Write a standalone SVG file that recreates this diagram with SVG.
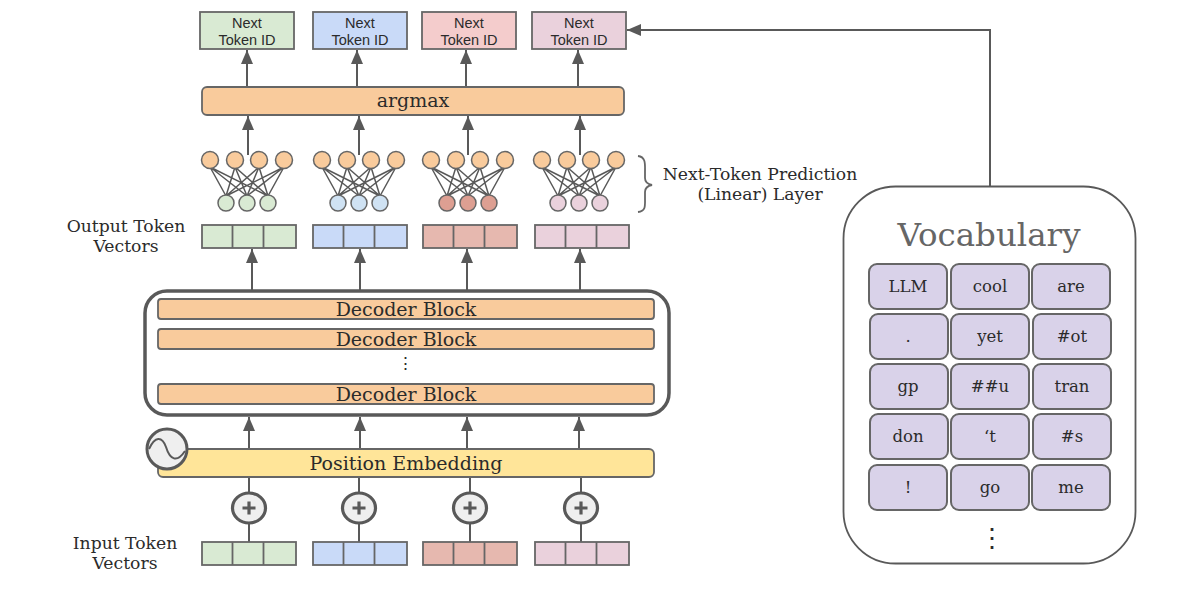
<svg xmlns="http://www.w3.org/2000/svg" xmlns:xlink="http://www.w3.org/1999/xlink" width="1198" height="599" viewBox="0 0 1198 599">
<style>
text{font-family:"DejaVu Serif","Liberation Serif",serif;fill:#2b2b2b;text-anchor:middle}
.sans{font-family:"Liberation Sans",Arial,sans-serif;font-size:14.5px}
.lab{font-size:17.2px}
.blk{font-size:19px}
.cell{font-size:16.5px}
.box{stroke:#666;stroke-width:1.800}
.thin{stroke:#666;stroke-width:1.800;fill:none}
.cnn{stroke:#595959;stroke-width:2;fill:none}
.arr{marker-end:url(#ah)}
.wire{stroke:#595959;stroke-width:1.500;fill:none}
.c{stroke:#666;stroke-width:1.500}
.og{fill:#f9cb9c}.gr{fill:#d9ead3}.bl{fill:#c9daf8}.rd{fill:#f4cccc}.rd2{fill:#e6b8af}.pk{fill:#ead1dc}.yl{fill:#ffe599}
.b2{fill:#cfe2f3}.r3{fill:#dd9f92}
.cellbox{fill:#d9d2e9;stroke:#666;stroke-width:2}
</style>
<defs>
<marker id="ah" markerUnits="userSpaceOnUse" markerWidth="15" markerHeight="13" refX="14" refY="6.500" orient="auto"><path d="M0 0.500L14 6.500L0 12.500z" fill="#595959"/></marker>
<path id="wires" d="M0 167L16 196M0 167L37 196M0 167L58 196M25 167L16 196M25 167L37 196M25 167L58 196M49 167L16 196M49 167L37 196M49 167L58 196M74 167L16 196M74 167L37 196M74 167L58 196"/>
<g id="tops"><circle class="c og" cx="0" cy="160" r="8.500"/><circle class="c og" cx="25" cy="160" r="8.500"/><circle class="c og" cx="49" cy="160" r="8.500"/><circle class="c og" cx="74" cy="160" r="8.500"/></g>
<g id="bots"><circle class="c" cx="16" cy="203" r="8"/><circle class="c" cx="37" cy="203" r="8"/><circle class="c" cx="58" cy="203" r="8"/></g>
<g id="vec"><rect class="box" x="0" y="0" width="94" height="23"/><path class="thin" d="M30.500 0V23M61.500 0V23"/></g>
<g id="plus"><ellipse cx="0" cy="0" rx="16.500" ry="15" fill="#efefef" stroke="#595959" stroke-width="3.200"/><path d="M-6.500 0H6.500M0-6.500V6.500" stroke="#595959" stroke-width="3.200" fill="none"/></g>
</defs>

<g id="connectors">
<path class="cnn arr" d="M247 87V50"/><path class="cnn arr" d="M357 87V50"/><path class="cnn arr" d="M466 87V50"/><path class="cnn arr" d="M578 87V50"/>
<path class="cnn arr" d="M248 155V116"/><path class="cnn arr" d="M359 155V116"/><path class="cnn arr" d="M468 155V116"/><path class="cnn arr" d="M580 155V116"/>
<path class="cnn arr" d="M252 290V249"/><path class="cnn arr" d="M360 290V249"/><path class="cnn arr" d="M467 290V249"/><path class="cnn arr" d="M580 290V249"/>
<path class="cnn arr" d="M249 449V417"/><path class="cnn arr" d="M360 449V417"/><path class="cnn arr" d="M467 449V417"/><path class="cnn arr" d="M579 449V417"/>
<path class="cnn" d="M249 477V542M359 477V542M470 477V542M581 477V542"/>
<path class="cnn arr" d="M990 186V30H627"/>
<use xlink:href="#wires" href="#wires" class="wire" x="210"/>
<use xlink:href="#wires" href="#wires" class="wire" x="322"/>
<use xlink:href="#wires" href="#wires" class="wire" x="431"/>
<use xlink:href="#wires" href="#wires" class="wire" x="542"/>
</g>

<g id="next-token-1"><rect class="box gr" x="200" y="12" width="94" height="37"/><text class="sans" x="247" y="28">Next</text><text class="sans" x="247" y="45">Token ID</text></g>
<g id="next-token-2"><rect class="box bl" x="313" y="12" width="94" height="37"/><text class="sans" x="360" y="28">Next</text><text class="sans" x="360" y="45">Token ID</text></g>
<g id="next-token-3"><rect class="box rd" x="422" y="12" width="94" height="37"/><text class="sans" x="469" y="28">Next</text><text class="sans" x="469" y="45">Token ID</text></g>
<g id="next-token-4"><rect class="box pk" x="532" y="12" width="94" height="37"/><text class="sans" x="579" y="28">Next</text><text class="sans" x="579" y="45">Token ID</text></g>

<g id="argmax"><rect class="box og" x="202" y="87" width="422" height="28" rx="5"/><text class="blk" x="413" y="107">argmax</text></g>

<g id="net-1"><use xlink:href="#tops" href="#tops" x="210"/><use xlink:href="#bots" href="#bots" x="210" class="gr"/></g>
<g id="net-2"><use xlink:href="#tops" href="#tops" x="322"/><use xlink:href="#bots" href="#bots" x="322" class="b2"/></g>
<g id="net-3"><use xlink:href="#tops" href="#tops" x="431"/><use xlink:href="#bots" href="#bots" x="431" class="r3"/></g>
<g id="net-4"><use xlink:href="#tops" href="#tops" x="542"/><use xlink:href="#bots" href="#bots" x="542" class="pk"/></g>

<g id="prediction-label"><path class="thin" d="M638 156C646 157 645 164 645 172V178C645 182 647 184 652 185C647 186 645 188 645 192V198C645 206 646 211 638 212"/><text class="lab" x="760" y="180">Next-Token Prediction</text><text class="lab" x="760" y="200">(Linear) Layer</text></g>

<g id="output-label"><text class="lab" x="126" y="232">Output Token</text><text class="lab" x="126" y="252">Vectors</text></g>
<g id="output-vec-1"><use xlink:href="#vec" href="#vec" x="202" y="225" class="gr"/></g>
<g id="output-vec-2"><use xlink:href="#vec" href="#vec" x="313" y="225" class="bl"/></g>
<g id="output-vec-3"><use xlink:href="#vec" href="#vec" x="423" y="225" class="rd2"/></g>
<g id="output-vec-4"><use xlink:href="#vec" href="#vec" x="535" y="225" class="pk"/></g>

<g id="decoder-stack"><rect x="145" y="291" width="524" height="124" rx="22" fill="#fff" stroke="#595959" stroke-width="3.500"/>
<rect class="box og" x="158" y="299" width="496" height="20" rx="3"/><text class="blk" x="406" y="316">Decoder Block</text>
<rect class="box og" x="158" y="329" width="496" height="20" rx="3"/><text class="blk" x="406" y="346">Decoder Block</text>
<text class="lab" x="405" y="369">⋮</text>
<rect class="box og" x="158" y="384" width="496" height="20" rx="3"/><text class="blk" x="406" y="401">Decoder Block</text></g>

<g id="position-embedding"><rect class="box yl" x="158" y="449" width="496" height="28" rx="5"/><text class="blk" x="406" y="470">Position Embedding</text>
<circle cx="167" cy="449" r="20" fill="#efefef" stroke="#595959" stroke-width="3"/><path d="M149 449C155 436 162 436 166 447C170 460 177 463 185 451" fill="none" stroke="#595959" stroke-width="2"/></g>

<g id="plus-1"><use xlink:href="#plus" href="#plus" x="249" y="508"/></g>
<g id="plus-2"><use xlink:href="#plus" href="#plus" x="359" y="508"/></g>
<g id="plus-3"><use xlink:href="#plus" href="#plus" x="470" y="508"/></g>
<g id="plus-4"><use xlink:href="#plus" href="#plus" x="581" y="508"/></g>

<g id="input-label"><text class="lab" x="125" y="549">Input Token</text><text class="lab" x="125" y="569">Vectors</text></g>
<g id="input-vec-1"><use xlink:href="#vec" href="#vec" x="202" y="542" class="gr"/></g>
<g id="input-vec-2"><use xlink:href="#vec" href="#vec" x="313" y="542" class="bl"/></g>
<g id="input-vec-3"><use xlink:href="#vec" href="#vec" x="423" y="542" class="rd2"/></g>
<g id="input-vec-4"><use xlink:href="#vec" href="#vec" x="535" y="542" class="pk"/></g>

<g id="vocabulary"><rect x="843.500" y="186.500" width="292" height="377" rx="52" fill="#fff" stroke="#595959" stroke-width="1.800"/>
<text x="989" y="246" font-size="32.500" style="fill:#666">Vocabulary</text>
<rect class="cellbox" x="869" y="264" width="78" height="45" rx="8"/><text class="cell" x="908" y="292">LLM</text>
<rect class="cellbox" x="951" y="264" width="78" height="45" rx="8"/><text class="cell" x="990" y="292">cool</text>
<rect class="cellbox" x="1032" y="264" width="78" height="45" rx="8"/><text class="cell" x="1071" y="292">are</text>
<rect class="cellbox" x="870" y="314" width="78" height="45" rx="8"/><text class="cell" x="908" y="342">.</text>
<rect class="cellbox" x="951" y="314" width="78" height="45" rx="8"/><text class="cell" x="990" y="342">yet</text>
<rect class="cellbox" x="1033" y="314" width="78" height="45" rx="8"/><text class="cell" x="1072" y="342">#ot</text>
<rect class="cellbox" x="870" y="364" width="78" height="45" rx="8"/><text class="cell" x="908" y="392">gp</text>
<rect class="cellbox" x="951" y="364" width="78" height="45" rx="8"/><text class="cell" x="990" y="392">##u</text>
<rect class="cellbox" x="1033" y="364" width="78" height="45" rx="8"/><text class="cell" x="1072" y="392">tran</text>
<rect class="cellbox" x="870" y="414" width="78" height="45" rx="8"/><text class="cell" x="908" y="442">don</text>
<rect class="cellbox" x="951" y="414" width="78" height="45" rx="8"/><text class="cell" x="990" y="442">‘t</text>
<rect class="cellbox" x="1033" y="414" width="78" height="45" rx="8"/><text class="cell" x="1072" y="442">#s</text>
<rect class="cellbox" x="869" y="465" width="78" height="45" rx="8"/><text class="cell" x="908" y="493">!</text>
<rect class="cellbox" x="951" y="465" width="78" height="45" rx="8"/><text class="cell" x="990" y="493">go</text>
<rect class="cellbox" x="1032" y="465" width="78" height="45" rx="8"/><text class="cell" x="1071" y="493">me</text>
<text x="992" y="547" font-size="26">⋮</text></g>
</svg>
